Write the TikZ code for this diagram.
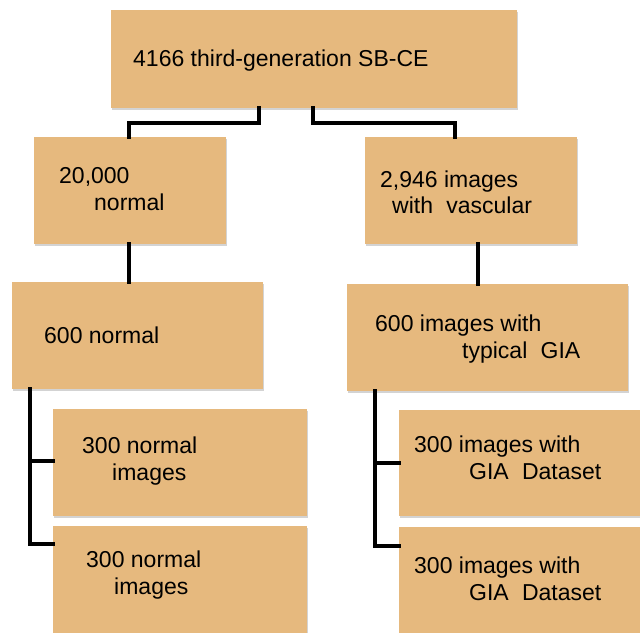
\documentclass[tikz,border=0pt]{standalone}
\usepackage{fontspec}
\setmainfont{Liberation Sans}
\usetikzlibrary{shadows}
\definecolor{boxfill}{RGB}{230,185,126}
\tikzset{
  box/.style={draw=none, fill=boxfill, anchor=north west, inner sep=0pt,
    drop shadow={shadow xshift=1.2pt, shadow yshift=-1.8pt, opacity=0.35, fill=gray}},
  txt/.style={anchor=base west, inner sep=0pt, font=\fontsize{23}{27}\selectfont},
  conn/.style={draw=black, line width=3.6pt, line join=miter, line cap=rect}
}
\begin{document}
\begin{tikzpicture}[x=1pt,y=-1pt]
\useasboundingbox (0,0) rectangle (640,632);
% boxes
\node[box, minimum width=406pt, minimum height=98pt]  (B0) at (111,10) {};
\node[box, minimum width=192pt, minimum height=107pt] (B1) at (34,137) {};
\node[box, minimum width=212pt, minimum height=107pt] (B2) at (365,137) {};
\node[box, minimum width=251pt, minimum height=107pt] (B3) at (12,282) {};
\node[box, minimum width=281pt, minimum height=107pt] (B4) at (347,284) {};
\node[box, minimum width=254pt, minimum height=107pt] (B5) at (53,409) {};
\node[box, minimum width=254pt, minimum height=110pt] (B6) at (53,526) {};
\node[box, minimum width=245pt, minimum height=106pt] (B7) at (399,410) {};
\node[box, minimum width=245pt, minimum height=110pt] (B8) at (399,527) {};
% connector points
\coordinate (c0l) at (259,108);
\coordinate (c0r) at (313,108);
\coordinate (c1t) at (129,137);
\coordinate (c2t) at (455,137);
\coordinate (c1b) at (129,244);
\coordinate (c3t) at (129,282);
\coordinate (c2b) at (478,244);
\coordinate (c4t) at (478,284);
\coordinate (c3b) at (30,389);
\coordinate (c5l) at (53,461);
\coordinate (c6l) at (53,544);
\coordinate (c4b) at (375,391);
\coordinate (c7l) at (399,463);
\coordinate (c8l) at (399,546);
\begin{scope}[line cap=butt]
\draw[conn] (c0l) |- (129,123) -- (c1t);
\draw[conn] (c0r) |- (455,123) -- (c2t);
\draw[conn] (c1b) -- (c3t);
\draw[conn] (c2b) -- (c4t);
\draw[conn] (c3b) |- (c5l);
\draw[conn] (c3b) |- (c6l);
\draw[conn] (c4b) |- (c7l);
\draw[conn] (c4b) |- (c8l);
\end{scope}
% texts
\node[txt] (t0) at (133,66) {4166 third-generation SB-CE};
\node[txt] (t1a) at (59,183) {20,000};
\node[txt] (t1b) at (94,210) {normal};
\node[txt] (t2a) at (380,187) {2,946 images};
\node[txt] (t2b) at (392,213) {with\hspace{0.3em} vascular};
\node[txt] (t3) at (44,343) {600 normal};
\node[txt] (t4a) at (375,331) {600 images with};
\node[txt] (t4b) at (462,358) {typical\hspace{0.3em} GIA};
\node[txt] (t5a) at (82,453) {300 normal};
\node[txt] (t5b) at (112,480) {images};
\node[txt] (t6a) at (86,567) {300 normal};
\node[txt] (t6b) at (114,594) {images};
\node[txt] (t7a) at (414,452) {300 images with};
\node[txt] (t7b) at (469,479) {GIA\hspace{0.3em} Dataset};
\node[txt] (t8a) at (414,573) {300 images with};
\node[txt] (t8b) at (469,600) {GIA\hspace{0.3em} Dataset};
\end{tikzpicture}
\end{document}
